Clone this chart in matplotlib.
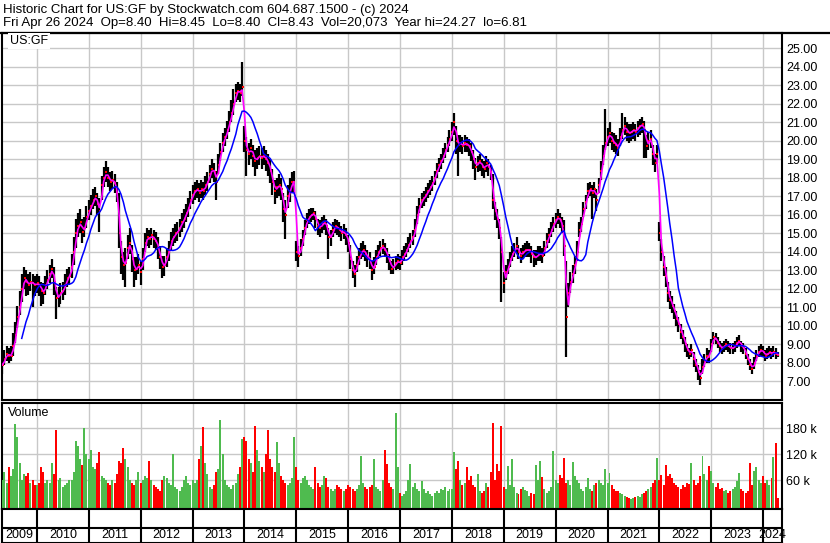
import matplotlib
matplotlib.use("Agg")
import matplotlib.pyplot as plt
import matplotlib.dates as mdates
from matplotlib.lines import Line2D
import numpy as np
import pandas as pd

plt.rcParams['font.family'] = ['Liberation Sans', 'DejaVu Sans']

# ---------------- data (half-monthly) ----------------
dates = pd.date_range('2009-05-01', periods=360, freq='SMS')

close = [
    7.9, 8.2, 8.5, 8.4, 8.4, 8.9, 9.5, 10.5, 11.0, 12.0, 12.6, 12.4, 12.2, 12.4, 12.3, 12.2,
    12.3, 12.2, 11.9, 11.8, 12.2, 12.5, 12.8, 13.1, 12.4, 11.5, 11.6, 11.8, 11.9, 12.2, 12.6, 12.7, 13.2, 14.0, 15.0, 15.4, 15.6, 15.1, 15.3, 15.9,
    16.2, 16.5, 16.8, 17.0, 16.6, 16.2, 17.6, 18.0, 18.3, 18.0, 17.8, 17.9, 17.7, 17.2, 15.0, 13.7, 13.3, 13.4, 14.2, 14.5, 13.6, 13.0, 13.1, 13.3,
    12.9, 13.6, 14.5, 14.8, 14.7, 14.9, 14.7, 14.6, 14.2, 13.7, 13.2, 13.3, 13.7, 14.0, 14.6, 14.8, 15.0, 15.1, 15.3, 15.6, 15.8, 16.1, 16.4, 16.8,
    17.1, 17.3, 17.4, 17.2, 17.4, 17.3, 17.6, 17.8, 18.2, 18.5, 18.3, 17.8, 18.7, 19.4, 19.9, 20.2, 20.6, 21.0, 21.5, 22.0, 22.6, 22.7, 22.6, 22.9,
    20.0, 19.5, 19.3, 19.6, 19.2, 18.9, 19.1, 19.2, 19.1, 19.2, 19.0, 18.8, 18.4, 17.8, 17.3, 17.5, 17.6, 17.4, 16.3, 16.0, 17.0, 17.3, 17.8, 17.8,
    14.0, 13.8, 14.2, 14.7, 15.3, 15.7, 15.9, 16.0, 16.1, 15.8, 15.4, 15.3, 15.5, 15.6, 15.4, 14.8, 14.8, 15.2, 15.4, 15.3, 15.2, 15.0, 15.1, 14.9,
    14.5, 13.6, 13.0, 12.8, 13.3, 13.7, 14.0, 14.1, 13.9, 13.7, 13.6, 13.0, 13.2, 13.7, 14.0, 14.2, 14.3, 14.1, 13.8, 13.5, 13.1, 13.2, 13.4, 13.5,
    13.4, 13.7, 13.9, 14.1, 14.4, 14.6, 14.8, 15.2, 16.0, 16.5, 16.8, 16.9, 17.1, 17.3, 17.5, 17.7, 18.0, 18.4, 18.7, 18.9, 19.2, 19.5, 19.8, 20.1,
    20.5, 21.0, 20.0, 19.8, 19.9, 19.7, 19.9, 19.8, 19.7, 19.4, 19.0, 18.6, 18.8, 18.9, 18.6, 18.5, 18.8, 18.6, 18.3, 16.8, 16.2, 15.8, 15.3, 14.0,
    12.3, 12.9, 13.2, 13.6, 13.9, 14.1, 14.3, 14.0, 13.8, 14.0, 14.1, 14.1, 14.1, 13.9, 13.7, 13.7, 13.9, 13.9, 13.8, 14.2, 14.6, 14.9, 15.2, 15.5,
    15.7, 15.9, 15.7, 15.4, 14.3, 10.5, 11.8, 12.4, 12.8, 13.3, 14.0, 15.2, 15.5, 16.3, 16.7, 17.3, 17.4, 17.2, 17.4, 16.8, 17.6, 18.4, 19.2, 19.9,
    20.2, 20.4, 20.0, 19.9, 19.8, 19.6, 20.2, 20.6, 20.8, 20.5, 20.4, 20.5, 20.6, 20.5, 20.7, 20.8, 20.9, 20.6, 19.7, 20.0, 20.1, 19.3, 18.8, 19.3,
    15.0, 14.0, 13.2, 12.7, 11.8, 11.4, 11.1, 10.8, 10.4, 10.1, 9.7, 9.4, 9.0, 8.7, 8.5, 8.7, 8.2, 7.9, 7.5, 7.2, 7.8, 8.1, 8.4, 8.3,
    9.0, 9.4, 9.3, 9.1, 8.9, 8.8, 8.9, 9.0, 8.9, 8.8, 8.8, 8.9, 9.1, 9.2, 8.9, 8.8, 8.5, 8.2, 7.9, 7.7, 8.0, 8.4, 8.6, 8.7,
    8.6, 8.4, 8.5, 8.6, 8.5, 8.6, 8.5, 8.43,
]

high = [
    8.3, 8.7, 8.9, 8.8, 8.9, 9.6, 10.2, 11.1, 11.9, 12.8, 13.2, 13.0, 12.8, 12.9, 12.8, 12.7,
    12.8, 12.7, 12.4, 12.3, 12.7, 13.0, 13.3, 13.6, 13.2, 12.1, 12.1, 12.3, 12.4, 12.8, 13.1, 13.2, 13.9, 14.8, 15.8, 16.1, 16.3, 15.8, 15.9, 16.5,
    16.8, 17.1, 17.4, 17.5, 17.2, 16.9, 18.1, 18.6, 18.9, 18.6, 18.3, 18.4, 18.2, 17.8, 17.2, 14.6, 14.0, 14.2, 14.9, 15.3, 14.4, 13.7, 13.7, 13.9,
    13.5, 14.2, 15.0, 15.3, 15.2, 15.3, 15.2, 15.1, 14.8, 14.3, 13.8, 13.8, 14.2, 14.6, 15.1, 15.3, 15.5, 15.6, 15.8, 16.1, 16.3, 16.6, 16.9, 17.3,
    17.6, 17.8, 17.9, 17.7, 17.9, 17.8, 18.1, 18.3, 18.7, 19.0, 18.8, 18.4, 19.3, 19.9, 20.4, 20.7, 21.1, 21.6, 22.2, 22.8, 23.1, 23.2, 23.1, 24.27,
    20.8, 20.2, 19.9, 20.1, 19.8, 19.5, 19.6, 19.7, 19.6, 19.7, 19.5, 19.3, 19.0, 18.5, 17.9, 18.0, 18.2, 18.0, 17.2, 16.8, 17.6, 18.0, 18.3, 18.4,
    14.6, 14.3, 14.7, 15.2, 15.7, 16.1, 16.3, 16.4, 16.4, 16.2, 15.8, 15.7, 15.9, 16.0, 15.8, 15.3, 15.2, 15.6, 15.8, 15.7, 15.6, 15.4, 15.5, 15.3,
    14.9, 14.4, 13.5, 13.3, 13.8, 14.2, 14.5, 14.6, 14.4, 14.1, 14.0, 13.5, 13.7, 14.1, 14.4, 14.6, 14.7, 14.5, 14.2, 13.9, 13.5, 13.6, 13.8, 13.9,
    13.8, 14.1, 14.3, 14.5, 14.8, 15.0, 15.2, 15.8, 16.5, 16.9, 17.2, 17.3, 17.5, 17.7, 17.9, 18.1, 18.4, 18.8, 19.1, 19.3, 19.6, 19.9, 20.2, 20.6,
    21.0, 21.5, 20.8, 20.3, 20.3, 20.2, 20.3, 20.2, 20.1, 19.9, 19.5, 19.1, 19.2, 19.3, 19.0, 18.9, 19.2, 19.0, 18.7, 18.2, 16.7, 16.3, 15.8, 14.8,
    12.9, 13.3, 13.6, 14.0, 14.3, 14.5, 14.8, 14.4, 14.2, 14.4, 14.5, 14.6, 14.5, 14.3, 14.1, 14.1, 14.3, 14.3, 14.2, 14.6, 15.0, 15.3, 15.6, 15.9,
    16.1, 16.3, 16.1, 15.9, 15.7, 13.5, 12.3, 12.9, 13.3, 13.8, 14.6, 15.6, 15.9, 16.7, 17.1, 17.7, 17.8, 17.6, 17.8, 17.4, 18.0, 18.9, 19.8, 21.7,
    20.7, 21.0, 20.5, 20.4, 20.3, 20.1, 20.7, 21.5, 21.3, 21.0, 20.9, 20.9, 21.0, 20.9, 21.1, 21.2, 21.3, 21.1, 20.3, 20.5, 20.6, 19.8, 19.3, 19.8,
    15.6, 14.7, 13.8, 13.2, 12.4, 11.9, 11.6, 11.2, 10.8, 10.5, 10.1, 9.8, 9.4, 9.0, 8.8, 9.0, 8.6, 8.2, 7.9, 7.6, 8.2, 8.5, 8.8, 8.7,
    9.3, 9.7, 9.6, 9.4, 9.2, 9.1, 9.2, 9.3, 9.2, 9.1, 9.1, 9.2, 9.4, 9.5, 9.2, 9.1, 8.8, 8.5, 8.2, 8.0, 8.3, 8.7, 8.9, 9.0,
    8.9, 8.7, 8.8, 8.9, 8.8, 8.9, 8.8, 8.6,
]

low = [
    7.4, 7.9, 8.1, 8.0, 8.1, 8.4, 9.1, 9.9, 10.6, 11.3, 12.0, 11.6, 11.7, 11.9, 11.0, 11.6,
    11.8, 11.6, 11.1, 11.2, 11.7, 12.0, 12.3, 12.6, 11.7, 10.4, 11.0, 11.2, 11.4, 11.7, 12.1, 12.2, 12.6, 13.3, 14.2, 14.8, 15.0, 14.5, 14.8, 15.3,
    15.7, 16.0, 16.3, 16.5, 16.0, 15.1, 16.8, 17.5, 17.8, 17.5, 17.3, 17.4, 17.2, 16.7, 14.2, 12.8, 12.5, 12.1, 13.6, 13.9, 12.9, 12.1, 12.5, 12.8,
    12.2, 13.0, 14.0, 14.3, 14.2, 14.4, 14.2, 14.1, 13.6, 13.1, 12.6, 12.7, 13.2, 13.5, 14.1, 14.3, 14.5, 14.6, 14.8, 15.1, 15.3, 15.6, 15.9, 16.3,
    16.6, 16.8, 16.9, 16.7, 16.9, 16.8, 17.1, 17.3, 17.7, 18.0, 17.8, 16.8, 18.2, 18.9, 19.4, 19.7, 20.1, 20.5, 21.0, 21.4, 22.1, 22.2, 22.1, 22.4,
    19.4, 18.1, 18.7, 19.0, 18.6, 18.1, 18.5, 18.7, 18.5, 18.7, 18.4, 18.1, 17.7, 17.1, 16.6, 16.9, 17.0, 16.8, 15.6, 14.7, 16.4, 16.7, 17.2, 17.2,
    13.5, 13.2, 13.8, 14.3, 14.9, 15.3, 15.5, 15.6, 15.7, 15.3, 14.9, 14.8, 15.0, 15.2, 14.9, 13.6, 14.3, 14.8, 15.0, 14.9, 14.8, 14.6, 14.7, 14.4,
    14.0, 13.1, 12.6, 12.1, 12.9, 13.3, 13.6, 13.7, 13.5, 13.2, 13.1, 12.5, 12.8, 13.3, 13.6, 13.8, 13.9, 13.7, 13.4, 13.0, 12.8, 12.8, 13.0, 13.1,
    13.0, 13.3, 13.5, 13.7, 14.0, 14.2, 14.4, 14.8, 15.5, 16.1, 16.4, 16.5, 16.7, 16.9, 17.1, 17.3, 17.6, 18.0, 18.3, 18.5, 18.8, 19.1, 19.4, 19.7,
    20.0, 20.3, 19.3, 18.1, 19.4, 19.3, 19.4, 19.4, 19.2, 18.9, 18.5, 17.9, 18.3, 18.4, 18.1, 18.0, 18.3, 18.1, 17.9, 16.3, 15.7, 15.3, 14.7, 11.3,
    11.8, 12.5, 12.8, 13.2, 13.5, 13.7, 13.9, 13.6, 13.4, 13.6, 13.7, 13.7, 13.7, 13.4, 13.2, 13.3, 13.5, 13.5, 13.4, 13.8, 14.2, 14.5, 14.8, 15.1,
    15.3, 15.5, 15.3, 15.0, 13.8, 8.3, 11.0, 11.8, 12.3, 12.8, 13.5, 14.8, 15.1, 15.9, 16.3, 16.9, 17.0, 15.8, 16.9, 16.2, 17.2, 17.9, 18.7, 19.5,
    19.7, 19.9, 19.5, 19.4, 19.3, 19.2, 19.7, 20.1, 20.3, 20.0, 19.9, 20.0, 20.1, 20.0, 20.2, 20.3, 20.4, 19.1, 19.1, 19.5, 19.6, 18.7, 18.3, 18.8,
    14.6, 13.5, 12.7, 12.1, 11.3, 10.9, 10.7, 10.4, 10.0, 9.7, 9.3, 9.0, 8.6, 8.3, 8.2, 8.3, 7.8, 7.5, 7.1, 6.81, 7.4, 7.8, 8.0, 8.0,
    8.6, 9.0, 9.0, 8.8, 8.6, 8.5, 8.6, 8.7, 8.6, 8.5, 8.5, 8.6, 8.8, 8.9, 8.6, 8.5, 8.2, 7.9, 7.6, 7.4, 7.7, 8.1, 8.3, 8.4,
    8.3, 8.1, 8.2, 8.3, 8.2, 8.3, 8.2, 8.3,
]

volume_k = [
    60, 80, 55, 90, 70, 85, 190, 160, 100, 60, 75, 70, 78, 55, 60, 50,
    50, 55, 90, 80, 55, 60, 55, 100, 75, 175, 60, 65, 45, 50, 55, 60, 60, 80, 150, 140, 110, 95, 180, 120,
    110, 130, 90, 85, 100, 125, 70, 65, 60, 55, 50, 60, 55, 75, 105, 100, 135, 110, 90, 60, 55, 50, 60, 80,
    55, 60, 70, 65, 105, 60, 50, 45, 40, 35, 60, 70, 65, 55, 50, 120, 45, 40, 35, 45, 60, 70, 55, 50,
    60, 55, 60, 110, 140, 182, 100, 75, 45, 40, 50, 80, 85, 198, 120, 60, 50, 45, 40, 50, 55, 75, 90, 155,
    160, 150, 110, 100, 80, 185, 130, 105, 90, 80, 120, 175, 110, 90, 80, 148, 100, 70, 60, 55, 50, 55, 65, 160,
    90, 60, 55, 65, 70, 60, 50, 45, 40, 90, 55, 45, 50, 70, 65, 45, 40, 35, 40, 50, 45, 40, 35, 40,
    50, 45, 40, 35, 40, 50, 117, 55, 45, 40, 45, 50, 110, 45, 40, 35, 60, 130, 98, 55, 45, 40, 214, 90,
    30, 25, 28, 35, 60, 98, 45, 55, 40, 35, 58, 40, 30, 35, 28, 25, 30, 35, 30, 40, 38, 45, 35, 40,
    40, 125, 85, 105, 60, 50, 55, 90, 60, 70, 50, 45, 75, 35, 30, 35, 53, 45, 80, 192, 60, 98, 81, 185,
    45, 40, 92, 50, 110, 45, 30, 28, 40, 45, 38, 35, 25, 30, 28, 95, 60, 105, 67, 40, 30, 35, 45, 127,
    60, 55, 72, 65, 111, 55, 60, 50, 103, 70, 60, 55, 40, 35, 45, 65, 40, 35, 50, 55, 60, 55, 50, 86,
    55, 77, 50, 40, 35, 35, 30, 28, 25, 22, 20, 18, 20, 22, 25, 22, 28, 30, 35, 40, 45, 55, 60, 111,
    60, 72, 50, 95, 70, 75, 65, 55, 50, 45, 40, 50, 45, 55, 52, 101, 60, 50, 55, 70, 115, 75, 60, 92,
    82, 55, 45, 53, 40, 42, 35, 38, 30, 35, 40, 45, 58, 76, 40, 35, 30, 35, 101, 50, 82, 90, 60, 55,
    70, 55, 60, 50, 65, 113, 145, 20,
]

price_ticks = list(range(7, 26))
volume_ticks = [60, 120, 180]
volume_tick_labels = ['60 k', '120 k', '180 k']

title_line1 = "Historic Chart for US:GF by Stockwatch.com 604.687.1500 - (c) 2024"
title_line2 = "Fri Apr 26 2024  Op=8.40  Hi=8.45  Lo=8.40  Cl=8.43  Vol=20,073  Year hi=24.27  lo=6.81"
symbol = "US:GF"

assert len(close) == len(high) == len(low) == len(volume_k) == len(dates), (len(close), len(high), len(low), len(volume_k))

# ---------------- figure ----------------
W, H = 830, 543
fig = plt.figure(figsize=(W / 100, H / 100), dpi=100)

def box(l, t, r, b):
    return [l / W, 1 - b / H, (r - l) / W, (b - t) / H]

ax = fig.add_axes(box(2, 33, 782, 400))
axv = fig.add_axes(box(2, 403, 782, 509))
axx = fig.add_axes(box(2, 509, 782, 543))

x = mdates.date2num(dates)
xmin = mdates.date2num(pd.Timestamp('2009-04-29'))
xmax = mdates.date2num(pd.Timestamp('2024-05-14'))
years = pd.date_range('2010-01-01', '2024-01-01', freq='YS')
yx = mdates.date2num(years)

GRID = '#c8c8c8'
FS = 9

c = np.array(close)
s = pd.Series(c)
ma_short = s.rolling(2, min_periods=1).mean().values
ma_long = s.rolling(10, min_periods=10).mean().values

# price panel
ax.vlines(x, low, high, color='black', lw=1.6, zorder=3)
ax.plot(x + 4, c, ls='none', marker='s', ms=1.5, mew=0, color='#ff0000', zorder=4)
ax.plot(x, ma_short, color='#ff00ff', lw=1.2, zorder=5)
ax.plot(x, ma_long, color='#0000ff', lw=1.1, zorder=6)
ax.set_xlim(xmin, xmax)
ax.set_ylim(6.0, 25.83)
ax.set_xticks(yx)
ax.set_yticks(price_ticks)
ax.set_yticklabels([f"{v:.2f}" for v in price_ticks])
ax.yaxis.tick_right()
ax.tick_params(axis='both', length=0, labelsize=FS, labelbottom=False, pad=3)
ax.grid(True, color=GRID, lw=1.0, zorder=0)
ax.set_axisbelow(True)

# volume panel
vol = np.array(volume_k, dtype=float)
diff = np.diff(c, prepend=c[0])
vcolors = np.where(diff < 0, '#ff0000', '#4fbb4f')
base = -6
axv.bar(x, vol - base, bottom=base, width=14, color=vcolors, linewidth=0, zorder=3)
axv.set_xlim(xmin, xmax)
axv.set_ylim(base, 238)
axv.set_xticks(yx)
axv.set_yticks(volume_ticks)
axv.set_yticklabels(volume_tick_labels)
axv.yaxis.tick_right()
axv.tick_params(axis='both', length=0, labelsize=FS, labelbottom=False, pad=3)
axv.grid(True, color=GRID, lw=1.0, zorder=0)
axv.set_axisbelow(True)

# x label strip
axx.set_xlim(xmin, xmax)
axx.set_ylim(0, 1)
axx.set_xticks([])
axx.set_yticks([])
axx.vlines(yx, 0, 1, color='black', lw=1.5)
axx.axhline((543 - 527.5) / 34, color='black', lw=1.5)
bounds = [xmin] + list(yx) + [xmax]
for i, yr in enumerate(range(2009, 2025)):
    mid = (bounds[i] + bounds[i + 1]) / 2
    axx.text(mid, (543 - 535) / 34, str(yr), ha='center', va='center', fontsize=FS, clip_on=False)

for a in (ax, axv, axx):
    for sp in a.spines.values():
        sp.set_color('black')
        sp.set_linewidth(1.5)

# header
fig.text(3 / W, 1 - 9.5 / H, title_line1, fontsize=9.5, va='center', ha='left')
fig.text(3 / W, 1 - 23 / H, title_line2, fontsize=9.5, va='center', ha='left')
fig.add_artist(Line2D([0, 1], [1 - 32.5 / H] * 2, color='black', lw=1.6))
fig.text(10 / W, 1 - 41 / H, symbol, fontsize=FS, va='center', ha='left',
         bbox=dict(facecolor='white', edgecolor='none', pad=1.5))
fig.text(8 / W, 1 - 413 / H, 'Volume', fontsize=FS, va='center', ha='left')

fig.savefig('out.png', dpi=100)
